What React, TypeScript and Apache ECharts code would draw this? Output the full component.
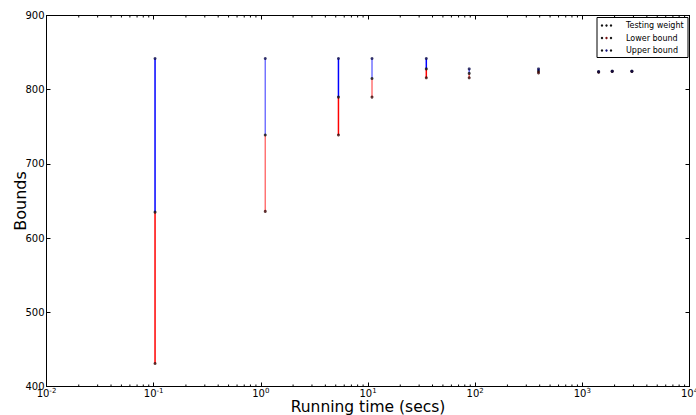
import React, { useEffect, useRef } from "react";
import * as echarts from "echarts";

const runningTime = [0.103, 1.1, 5.3, 10.9, 35, 88, 390, 1420, 1900, 2900];
const upperBound = [842, 842, 842, 842, 842, 828, 828, 824.5, 825, 825];
const testingWeight = [635, 739, 790, 815, 828, 822, 825, 824, 824.8, 824.8];
const lowerBound = [431, 636, 739, 790, 816, 816, 822.6, 823.5, 824.5, 824.5];
const xTickExponents = ["-2", "-1", "0", "1", "2", "3", "4"];
const yTicks = [400, 500, 600, 700, 800, 900];

const minorTickValues: number[] = [];
for (let e = -2; e < 4; e++) {
  for (let m = 2; m <= 9; m++) minorTickValues.push(m * Math.pow(10, e));
}

const FONT = "DejaVu Sans";

export default function App() {
  const ref = useRef<HTMLDivElement>(null);
  useEffect(() => {
    if (!ref.current) return;
    const chart = echarts.init(ref.current, null, { renderer: "svg" });
    const segData = runningTime.map((x, i) => [x, upperBound[i], testingWeight[i], lowerBound[i], i % 2]);
    const expLabel = (v: number) => {
      const e = Math.round(Math.log10(v));
      const s = xTickExponents.find((t) => Number(t) === e) ?? String(e);
      return "{b|10}{s|" + s + "}";
    };
    const legendItems = [
      { label: "Testing weight", mid: "#111111" },
      { label: "Lower bound", mid: "#7a1010" },
      { label: "Upper bound", mid: "#10107a" },
    ];
    const legendGraphics: any[] = [
      {
        type: "rect",
        shape: { x: 597, y: 17.5, width: 91, height: 40 },
        style: { fill: "#fff", stroke: "#000", lineWidth: 1 },
        z: 100,
      },
    ];
    legendItems.forEach((it, i) => {
      const cy = 25.5 + i * 12.5;
      [602, 606.5, 611].forEach((cx, j) => {
        legendGraphics.push({
          type: "circle",
          shape: { cx, cy, r: 1.2 },
          style: { fill: j === 1 ? it.mid : "#111" },
          z: 101,
        });
      });
      legendGraphics.push({
        type: "text",
        x: 626,
        y: cy,
        style: { text: it.label, font: "8px " + FONT, fill: "#000", verticalAlign: "middle" },
        z: 101,
      });
    });

    chart.setOption({
      animation: false,
      grid: { left: 46.5, right: 6.5, top: 15.5, bottom: 28.5, containLabel: false, outerBoundsMode: "none" },
      xAxis: [
        {
          type: "log",
          logBase: 10,
          min: 0.01,
          max: 10000,
          name: "Running time (secs)",
          nameLocation: "middle",
          nameGap: 12,
          nameMoveOverlap: false,
          nameTextStyle: { fontFamily: FONT, fontSize: 15.5, color: "#000" },
          axisLine: { show: true, lineStyle: { color: "#000", width: 1 } },
          axisTick: { show: true, inside: true, length: 4, lineStyle: { color: "#000" } },
          minorTick: { show: false },
          splitLine: { show: false },
          axisLabel: {
            margin: 1,
            formatter: expLabel,
            rich: {
              b: { fontFamily: FONT, fontSize: 10, lineHeight: 11, color: "#000", verticalAlign: "bottom" },
              s: { fontFamily: FONT, fontSize: 7, lineHeight: 8, color: "#000", verticalAlign: "top" },
            },
          },
        },
        {
          type: "log",
          logBase: 10,
          min: 0.01,
          max: 10000,
          position: "top",
          axisLine: { show: true, lineStyle: { color: "#000", width: 1 } },
          axisTick: { show: true, inside: true, length: 4, lineStyle: { color: "#000" } },
          axisLabel: { show: false },
          splitLine: { show: false },
        },
      ],
      yAxis: [
        {
          type: "value",
          min: 400,
          max: 900,
          interval: 100,
          name: "Bounds",
          nameLocation: "middle",
          nameGap: 18,
          nameMoveOverlap: false,
          nameTextStyle: { fontFamily: FONT, fontSize: 16, color: "#000" },
          axisLine: { show: true, lineStyle: { color: "#000", width: 1 } },
          axisTick: { show: true, inside: true, length: 4, lineStyle: { color: "#000" } },
          splitLine: { show: false },
          axisLabel: {
            margin: 2,
            fontFamily: FONT,
            fontSize: 10,
            color: "#000",
            formatter: (v: number) => (yTicks.includes(v) ? String(v) : ""),
          },
        },
        {
          type: "value",
          min: 400,
          max: 900,
          interval: 100,
          position: "right",
          axisLine: { show: true, lineStyle: { color: "#000", width: 1 } },
          axisTick: { show: true, inside: true, length: 4, lineStyle: { color: "#000" } },
          axisLabel: { show: false },
          splitLine: { show: false },
        },
      ],
      series: [
        {
          type: "custom",
          silent: true,
          clip: false,
          data: minorTickValues.map((v) => [v, 400]),
          renderItem: (params: any, api: any) => {
            const v = api.value(0);
            const b = api.coord([v, 400]);
            const t = api.coord([v, 900]);
            return {
              type: "group",
              children: [
                { type: "line", shape: { x1: b[0], y1: b[1], x2: b[0], y2: b[1] - 2 }, style: { stroke: "#000", lineWidth: 1 } },
                { type: "line", shape: { x1: t[0], y1: t[1], x2: t[0], y2: t[1] + 2 }, style: { stroke: "#000", lineWidth: 1 } },
              ],
            };
          },
        },
        {
          type: "custom",
          silent: true,
          data: segData,
          encode: { x: 0, y: [1, 2, 3] },
          renderItem: (params: any, api: any) => {
            const x = api.value(0);
            const u = api.coord([x, api.value(1)]);
            const m = api.coord([x, api.value(2)]);
            const l = api.coord([x, api.value(3)]);
            const op = api.value(4) === 1 ? 0.55 : 1;
            return {
              type: "group",
              children: [
                { type: "line", shape: { x1: u[0], y1: u[1], x2: m[0], y2: m[1] }, style: { stroke: "#0000ff", lineWidth: 1.5, opacity: op } },
                { type: "line", shape: { x1: m[0], y1: m[1], x2: l[0], y2: l[1] }, style: { stroke: "#ff0000", lineWidth: 1.5, opacity: op } },
              ],
            };
          },
        },
        {
          name: "Testing weight",
          type: "scatter",
          symbolSize: 3,
          itemStyle: { color: "#111" },
          data: runningTime.map((x, i) => [x, testingWeight[i]]),
          z: 5,
        },
        {
          name: "Lower bound",
          type: "scatter",
          symbolSize: 3,
          itemStyle: { color: "#3a0808" },
          data: runningTime.map((x, i) => [x, lowerBound[i]]),
          z: 5,
        },
        {
          name: "Upper bound",
          type: "scatter",
          symbolSize: 3,
          itemStyle: { color: "#0a0a4a" },
          data: runningTime.map((x, i) => [x, upperBound[i]]),
          z: 5,
        },
      ],
      graphic: legendGraphics,
    });
    return () => chart.dispose();
  }, []);
  return (
    <div
      ref={ref}
      style={{ position: "absolute", left: 0, top: 0, width: 696, height: 415, background: "#fff" }}
    />
  );
}
